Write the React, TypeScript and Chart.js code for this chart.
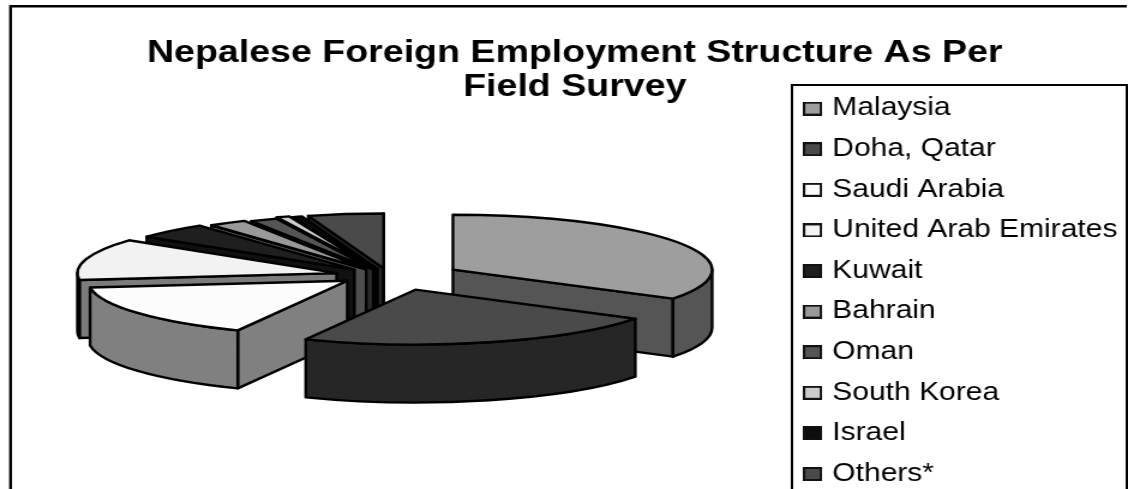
import React, { useEffect, useRef } from "react";
import { Chart, registerables } from "chart.js";

Chart.register(...registerables);

const titleLines = ["Nepalese Foreign Employment Structure As Per", "Field Survey"];
const categories = ["Malaysia", "Doha, Qatar", "Saudi Arabia", "United Arab Emirates", "Kuwait", "Bahrain", "Oman", "South Korea", "Israel", "Others*"];
const shares = [33.9, 23.1, 16.1, 12.2, 4.6, 2.4, 1.7, 0.8, 0.6, 4.7];
const topColours = ["#9e9e9e", "#4a4a4a", "#fcfcfc", "#f2f2f2", "#1f1f1f", "#999999", "#555555", "#cccccc", "#0d0d0d", "#4a4a4a"];
const wallColours = ["#555555", "#262626", "#808080", "#7c7c7c", "#111111", "#4f4f4f", "#2c2c2c", "#707070", "#080808", "#262626"];
const explode = [240, 296, 176, 184, 168, 148, 132, 156, 136, 144];

const STRETCH = 1.2;
const CANVAS_W = 940;
const CANVAS_H = 560;
const TILT = 0.254;
const OFFSET_TILT = 0.2;
const DEPTH = 58;
const PIE_X = 325;
const PIE_Y = 275.5;
const INK = "#000000";

function swatch(colour: string) {
  const c = document.createElement("canvas");
  c.width = 16;
  c.height = 14;
  const x = c.getContext("2d")!;
  x.fillStyle = colour;
  x.fillRect(0, 0, 16, 14);
  x.strokeStyle = "#111";
  x.lineWidth = 2;
  x.strokeRect(1, 1, 14, 12);
  return c;
}

const pie3d = {
  id: "pie3d",
  beforeDraw(chart: any) {
    const { ctx } = chart;
    ctx.save();
    ctx.strokeStyle = INK;
    ctx.lineWidth = 2.4;
    ctx.beginPath();
    ctx.moveTo(8.8, CANVAS_H);
    ctx.lineTo(8.8, 6.2);
    ctx.lineTo(939, 6.2);
    ctx.stroke();
    ctx.lineWidth = 2;
    ctx.strokeRect(660, 85, 279, CANVAS_H);
    ctx.restore();
  },
  afterLayout(chart: any) {
    chart.titleBlock.left += 18;
    chart.legend.left = 657.5;
    chart.legend.top = 80.5;
  },
  beforeDatasetDraw(chart: any) {
    const { ctx } = chart;
    const arcs = chart.getDatasetMeta(0).data.map((el: any, i: number) => ({ el, i }));
    arcs.sort((p: any, q: any) => Math.sin((p.el.startAngle + p.el.endAngle) / 2) - Math.sin((q.el.startAngle + q.el.endAngle) / 2));
    ctx.save();
    ctx.lineWidth = 2.4;
    ctx.lineJoin = "round";
    ctx.strokeStyle = INK;
    for (const { el, i } of arcs) {
      const a = el.startAngle;
      const b = el.endAngle;
      const r = el.outerRadius;
      const ry = r * TILT;
      const mid = (a + b) / 2;
      const off = el.options.offset / 4;
      const cx = PIE_X + Math.cos(mid) * off;
      const cy = PIE_Y + Math.sin(mid) * off * OFFSET_TILT;
      const pt = (t: number, d: number) => [cx + r * Math.cos(t), cy + ry * Math.sin(t) + d];
      const wall = (t: number) => {
        const [x, y] = pt(t, 0);
        ctx.beginPath();
        ctx.moveTo(cx, cy);
        ctx.lineTo(x, y);
        ctx.lineTo(x, y + DEPTH);
        ctx.lineTo(cx, cy + DEPTH);
        ctx.closePath();
        ctx.fillStyle = wallColours[i];
        ctx.fill();
        ctx.stroke();
      };
      if (Math.cos(a) < 0) wall(a);
      if (Math.cos(b) > 0) wall(b);
      const s = Math.max(a, 0);
      const e = Math.min(b, Math.PI);
      if (e > s) {
        ctx.beginPath();
        ctx.ellipse(cx, cy, r, ry, 0, s, e);
        ctx.ellipse(cx, cy + DEPTH, r, ry, 0, e, s, true);
        ctx.closePath();
        ctx.fillStyle = wallColours[i];
        ctx.fill();
        ctx.stroke();
      }
      ctx.beginPath();
      ctx.moveTo(cx, cy);
      ctx.ellipse(cx, cy, r, ry, 0, a, b);
      ctx.closePath();
      ctx.fillStyle = el.options.backgroundColor;
      ctx.fill();
      ctx.stroke();
    }
    ctx.restore();
    return false;
  },
};

export default function App() {
  const ref = useRef<HTMLCanvasElement>(null);
  useEffect(() => {
    document.body.style.margin = "0";
    const chart = new Chart(ref.current!, {
      type: "pie",
      data: {
        labels: categories,
        datasets: [{ data: shares, backgroundColor: topColours, borderColor: INK, borderWidth: 2, offset: explode, radius: 216 } as any],
      },
      options: {
        responsive: false,
        animation: false,
        devicePixelRatio: 1,
        plugins: {
          tooltip: { enabled: false },
          title: {
            display: true,
            text: titleLines,
            color: INK,
            padding: { top: 36, bottom: 0 },
            font: { family: "'Liberation Sans', Arial, sans-serif", size: 31.3, weight: "bold", lineHeight: 34 / 31.3 },
          },
          legend: {
            position: "right",
            align: "start",
            labels: {
              color: INK,
              padding: 15.6,
              boxWidth: 8,
              boxHeight: 8,
              usePointStyle: true,
              font: { family: "'Liberation Sans', Arial, sans-serif", size: 25 },
              generateLabels: () =>
                categories.map((text, i) => ({ text, fillStyle: topColours[i], strokeStyle: INK, lineWidth: 0, pointStyle: swatch(topColours[i]), index: i, hidden: false })),
            },
          },
        },
      } as any,
      plugins: [pie3d as any],
    });
    return () => chart.destroy();
  }, []);
  return (
    <div style={{ position: "absolute", left: 0, top: 0, width: 1128, height: 489, overflow: "hidden", background: "#fff" }}>
      <canvas ref={ref} width={CANVAS_W} height={CANVAS_H} style={{ display: "block", transformOrigin: "0 0", transform: `scaleX(${STRETCH})` }} />
    </div>
  );
}
